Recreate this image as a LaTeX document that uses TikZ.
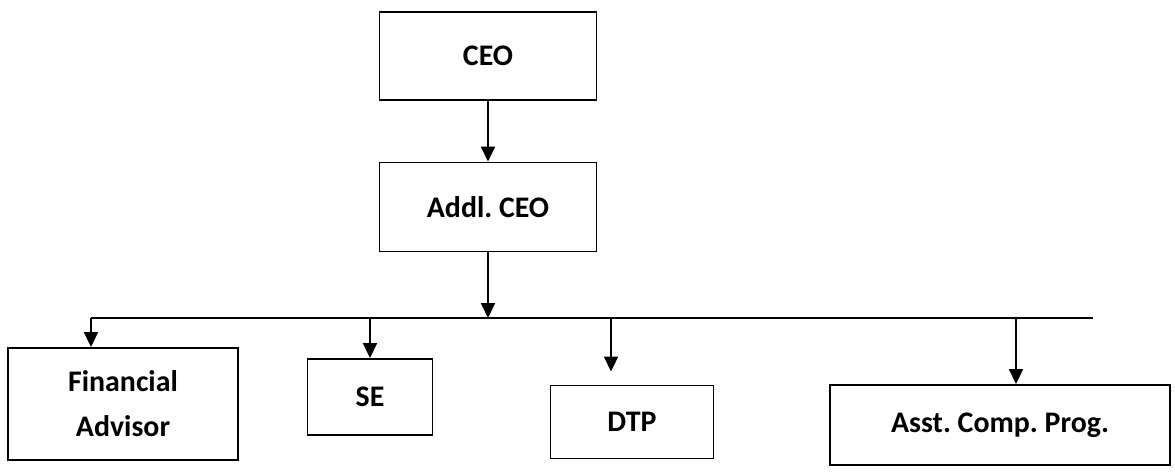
\documentclass[tikz,border=0pt]{standalone}
\usepackage{fontspec}
\setmainfont{Carlito}
\usetikzlibrary{arrows.meta}
\frenchspacing

\begin{document}
\begin{tikzpicture}[x=0.02cm, y=-0.02cm,
    post/.style={draw, line width=1.1pt, align=center, inner sep=2pt,
      font=\fontsize{17}{25.5}\selectfont\bfseries},
    arr/.style={line width=1.1pt, -{Triangle[length=0.3cm, width=0.28cm]}}]
  \useasboundingbox (0,0) rectangle (1175,476);
  % caixas
  \node[post, minimum width=4.34cm, minimum height=1.76cm] (ceo) at (488,56) {CEO};
  \node[post, minimum width=4.34cm, minimum height=1.78cm] (addl) at (488,207) {Addl. CEO};
  \node[post, minimum width=4.6cm, minimum height=2.24cm] (fin) at (123,404) {Financial\\Advisor};
  \node[post, minimum width=2.5cm, minimum height=1.52cm] (se) at (370,397) {SE};
  \node[post, minimum width=3.26cm, minimum height=1.46cm] (dtp) at (632,422) {DTP};
  \node[post, minimum width=6.8cm, minimum height=1.6cm] (asst) at (1000,425) {Asst. Comp. Prog.};
  % barra
  \coordinate (busL) at (91,318);
  \coordinate (busR) at (1093,318);
  \coordinate (dtpin) at ([xshift=-0.42cm, yshift=0.26cm]dtp.north);
  \coordinate (asstin) at ([xshift=0.32cm]asst.north);
  \draw[line width=1.1pt] (busL) -- (busR);
  % setas
  \draw[arr] (ceo) -- (addl);
  \draw[arr] (addl) -- (addl |- busL);
  \draw[arr] (busL) -- (busL |- fin.north);
  \draw[arr] (se |- busL) -- (se);
  \draw[arr] (dtpin |- busL) -- (dtpin);
  \draw[arr] (asstin |- busL) -- (asstin);
\end{tikzpicture}
\end{document}
